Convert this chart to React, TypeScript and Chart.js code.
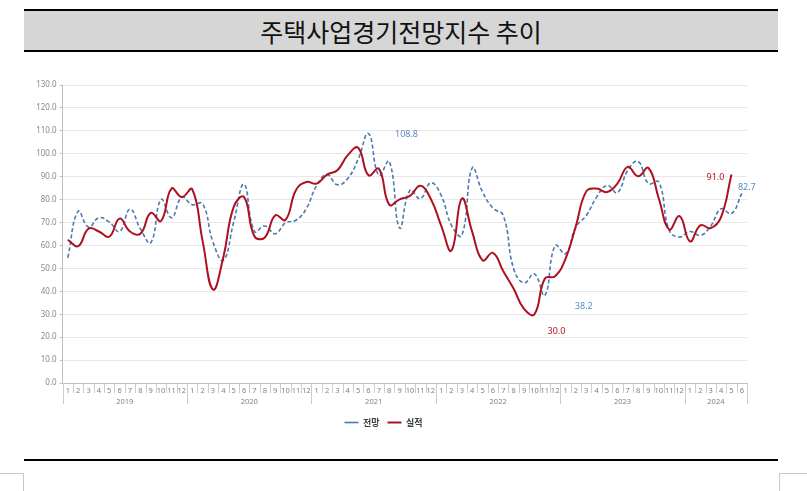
import React, { useEffect, useRef } from 'react';
import { Chart, registerables } from 'chart.js';

Chart.register(...registerables);

// ---- data ----
const YEARS = ['2019', '2020', '2021', '2022', '2023', '2024'];
const MONTHS_IN_YEAR = [12, 12, 12, 12, 12, 6];
const MONTH_LABELS = YEARS.flatMap((_, k) =>
  Array.from({ length: MONTHS_IN_YEAR[k] }, (_, m) => String(m + 1))
);

const SERIES_NAMES = ['전망', '실적'];

const FORECAST = [
  54.6, 74.9, 68.0, 72.1, 70.2, 66.1, 75.8, 67.3, 61.2, 80.1, 72.1, 81.0,
  77.8, 78.2, 61.5, 53.5, 70.2, 86.7, 66.1, 68.5, 65.1, 69.9, 71.0, 76.0,
  86.2, 90.9, 86.5, 89.2, 97.6, 108.8, 90.6, 96.7, 67.6, 84.1, 80.4, 87.3,
  81.9, 68.8, 64.4, 93.8, 83.3, 76.3, 73.1, 49.8, 43.7, 47.6, 38.2, 60.0,
  56.4, 68.0, 73.1, 81.1, 86.2, 83.0, 92.8, 96.7, 87.0, 87.7, 66.6, 63.7,
  66.1, 64.4, 68.5, 76.0, 73.9, 82.7,
];

const ACTUAL = [
  62.5, 59.7, 67.3, 66.1, 63.8, 71.7, 66.1, 65.1, 74.2, 70.7, 84.8, 81.1,
  84.5, 62.0, 40.8, 54.9, 76.8, 81.1, 64.0, 63.5, 73.1, 71.2, 84.1, 87.7,
  87.0, 90.9, 92.8, 99.4, 102.6, 90.6, 93.5, 77.8, 80.1, 81.6, 86.0, 80.4,
  68.8, 57.8, 80.4, 65.9, 53.5, 56.8, 48.7, 41.1, 32.3, 30.0, 45.5, 46.6,
  54.2, 68.5, 83.6, 84.8, 83.3, 87.0, 94.3, 90.2, 93.8, 80.4, 67.0, 72.8,
  61.8, 68.8, 67.6, 72.4, 91.0, null,
];

const Y_MIN = 0;
const Y_MAX = 130;
const Y_STEP = 10;

// value callouts: which series / which month, and where the text sits
const CALLOUTS = [
  { series: 0, index: 29, dx: 38, dy: 1 },
  { series: 0, index: 46, dx: 39, dy: 11 },
  { series: 1, index: 45, dx: 22, dy: 17 },
  { series: 1, index: 64, dx: -16, dy: 3 },
  { series: 0, index: 65, dx: 5, dy: -6 },
];

const BLUE = '#4a7aae';
const BLUE_TEXT = '#5b8cc4';
const RED = '#ae1020';
const RED_TEXT = '#c0101c';
const AXIS_FONT = "'Noto Sans', 'Noto Sans CJK KR', sans-serif";

const yearAxisPlugin = {
  id: 'yearAxis',
  afterDraw(chart: any) {
    const xs = chart.scales.x;
    const ctx = chart.ctx;
    const n = MONTH_LABELS.length;
    const w = (xs.right - xs.left) / n;
    const top = xs.top;
    const yearStarts: number[] = [];
    let acc = 0;
    MONTHS_IN_YEAR.forEach((c) => {
      yearStarts.push(acc);
      acc += c;
    });
    ctx.save();
    ctx.strokeStyle = '#cccccc';
    ctx.lineWidth = 1;
    for (let i = 0; i <= n; i++) {
      const x = Math.round(xs.left + i * w) + 0.5;
      const isYear = i === n || yearStarts.includes(i);
      ctx.beginPath();
      ctx.moveTo(x, top);
      ctx.lineTo(x, top + (isYear ? 21 : 10));
      ctx.stroke();
    }
    ctx.fillStyle = '#808080';
    ctx.font = `7.5px ${AXIS_FONT}`;
    ctx.textAlign = 'center';
    ctx.textBaseline = 'middle';
    YEARS.forEach((y, k) => {
      const s = yearStarts[k];
      const cx = xs.left + (s + MONTHS_IN_YEAR[k] / 2) * w;
      ctx.fillText(y, cx, top + 18.5);
    });
    ctx.restore();
  },
};

const calloutPlugin = {
  id: 'callouts',
  afterDatasetsDraw(chart: any) {
    const ctx = chart.ctx;
    ctx.save();
    ctx.font = `9px ${AXIS_FONT}`;
    ctx.textAlign = 'center';
    ctx.textBaseline = 'middle';
    CALLOUTS.forEach((c) => {
      const meta = chart.getDatasetMeta(c.series);
      const pt = meta.data[c.index];
      const val = chart.data.datasets[c.series].data[c.index];
      if (!pt || val == null) return;
      ctx.fillStyle = c.series === 0 ? BLUE_TEXT : RED_TEXT;
      ctx.fillText(Number(val).toFixed(1), pt.x + c.dx, pt.y + c.dy);
    });
    ctx.restore();
  },
};

export default function App() {
  const ref = useRef<HTMLCanvasElement | null>(null);

  useEffect(() => {
    if (!ref.current) return;
    const chart = new Chart(ref.current, {
      type: 'line',
      data: {
        labels: MONTH_LABELS,
        datasets: [
          {
            label: SERIES_NAMES[0],
            data: FORECAST,
            borderColor: BLUE,
            backgroundColor: BLUE,
            borderWidth: 1.6,
            borderDash: [4, 2.5],
            pointRadius: 0,
            tension: 0.45,
            order: 1,
          },
          {
            label: SERIES_NAMES[1],
            data: ACTUAL,
            borderColor: RED,
            backgroundColor: RED,
            borderWidth: 2,
            pointRadius: 0,
            tension: 0.45,
            order: 0,
          },
        ],
      },
      options: {
        responsive: false,
        maintainAspectRatio: false,
        animation: false,
        layout: { padding: { left: 20, right: 60, top: 25, bottom: 4 } },
        plugins: {
          tooltip: { enabled: false },
          legend: {
            position: 'bottom',
            labels: {
              usePointStyle: true,
              pointStyle: 'line',
              pointStyleWidth: 14,
              boxHeight: 9,
              padding: 8,
              color: '#404040',
              font: { size: 9, family: "'Noto Sans CJK KR', sans-serif", weight: 'bold' },
              sort: (a: any, b: any) => a.datasetIndex - b.datasetIndex,
            },
          },
        },
        scales: {
          x: {
            type: 'category',
            offset: true,
            grid: { display: true, drawOnChartArea: false, drawTicks: false, offset: true },
            border: { display: true, color: '#bfbfbf', width: 1 },
            ticks: {
              autoSkip: false,
              maxRotation: 0,
              minRotation: 0,
              padding: 3,
              color: '#808080',
              font: { size: 7.5, family: AXIS_FONT },
            },
            afterFit: (s: any) => {
              s.height = 27;
            },
          },
          y: {
            min: Y_MIN,
            max: Y_MAX,
            ticks: {
              stepSize: Y_STEP,
              padding: 3,
              color: '#8a8a8a',
              font: { size: 8, family: AXIS_FONT },
              callback: (v: any) => Number(v).toFixed(1),
            },
            grid: { color: '#e8e8e8', tickColor: '#bfbfbf', tickLength: 3, drawTicks: true },
            border: { display: true, color: '#bfbfbf', width: 1 },
            afterFit: (s: any) => {
              s.width = 42.6;
            },
          },
        },
      },
      plugins: [yearAxisPlugin, calloutPlugin],
    } as any);
    return () => chart.destroy();
  }, []);

  return (
    <div style={{ position: 'absolute', left: 0, top: 0, width: 807, height: 491, background: '#fff', overflow: 'hidden' }}>
      <div
        style={{
          position: 'absolute',
          left: 24,
          top: 9,
          width: 754,
          height: 43,
          boxSizing: 'border-box',
          borderTop: '2px solid #000',
          borderBottom: '2px solid #000',
          background: '#d6d6d6',
          display: 'flex',
          alignItems: 'center',
          justifyContent: 'center',
          fontFamily: "'Noto Sans CJK KR', sans-serif",
          fontSize: 25,
          fontWeight: 400,
          color: '#111',
        }}
      >
        주택사업경기전망지수 추이
      </div>
      <canvas ref={ref} width={807} height={381} style={{ position: 'absolute', left: 0, top: 60 }} />
      <div style={{ position: 'absolute', left: 24, top: 459, width: 754, height: 2, background: '#000' }} />
      <div
        style={{
          position: 'absolute',
          left: 0,
          top: 473,
          width: 24,
          height: 18,
          boxSizing: 'border-box',
          borderTop: '1px solid #c8c8c8',
          borderRight: '1px solid #c8c8c8',
        }}
      />
      <div
        style={{
          position: 'absolute',
          left: 779,
          top: 473,
          width: 28,
          height: 18,
          boxSizing: 'border-box',
          borderTop: '1px solid #c8c8c8',
          borderLeft: '1px solid #c8c8c8',
        }}
      />
    </div>
  );
}
